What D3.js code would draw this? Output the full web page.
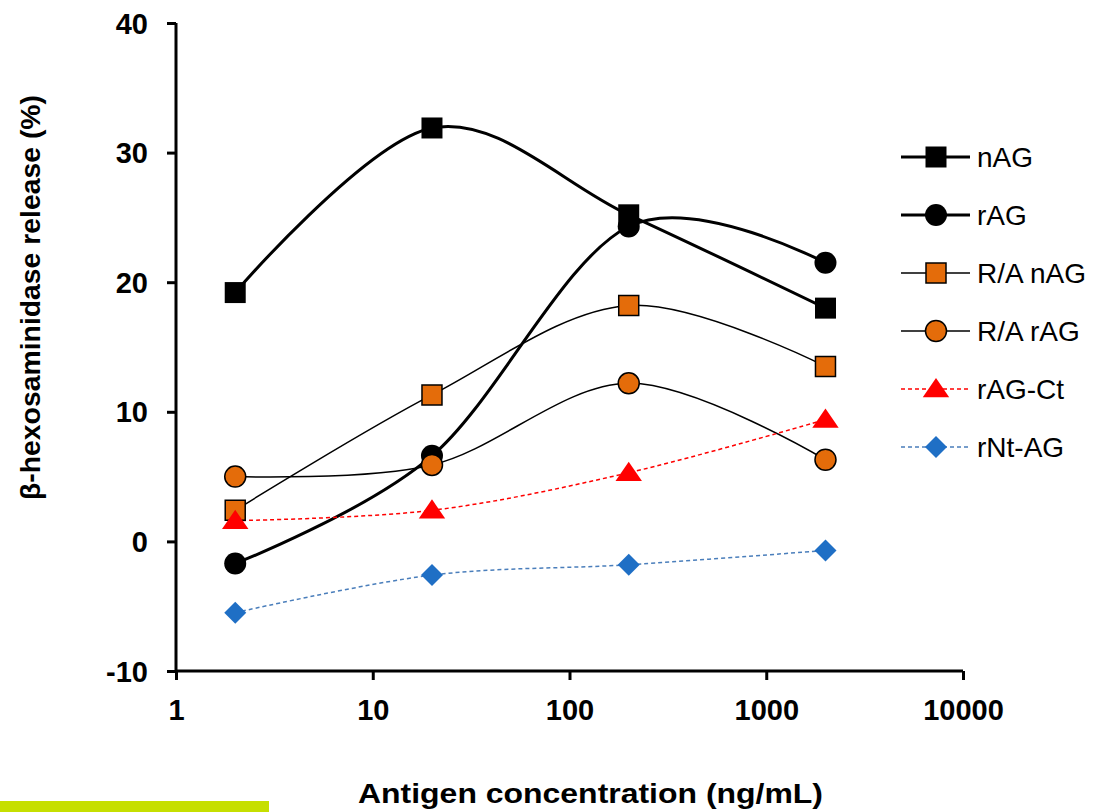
<!DOCTYPE html>
<html><head><meta charset="utf-8">
<script src="https://cdn.jsdelivr.net/npm/d3@7"></script>
<style>body{margin:0;background:#fff}svg{display:block}text{font-family:"Liberation Sans",Arial,sans-serif}</style>
</head><body>
<svg id="c" width="1094" height="812"></svg>
<script>
const concentrations = [2, 20, 200, 2000];
const nAG = [19.2, 31.9, 25.2, 18.0];
const rAG = [-1.7, 6.6, 24.3, 21.5];
const raNAG = [2.4, 11.3, 18.2, 13.5];
const raRAG = [5.0, 5.9, 12.2, 6.3];
const rAGCt = [1.6, 2.4, 5.3, 9.4];
const rNtAG = [-5.5, -2.6, -1.8, -0.7];
const xTicks = [1, 10, 100, 1000, 10000];
const yTicks = [-10, 0, 10, 20, 30, 40];

const series = [
  {name:"nAG", values:nAG, shape:"square", fill:"#000", stroke:"#000", lw:3, dash:null, size:21, mstroke:0},
  {name:"rAG", values:rAG, shape:"circle", fill:"#000", stroke:"#000", lw:3, dash:null, size:22, mstroke:0},
  {name:"R/A nAG", values:raNAG, shape:"square", fill:"#e46c0a", stroke:"#000", lw:1.5, dash:null, size:20, mstroke:1.5},
  {name:"R/A rAG", values:raRAG, shape:"circle", fill:"#e46c0a", stroke:"#000", lw:1.5, dash:null, size:21, mstroke:1.5},
  {name:"rAG-Ct", values:rAGCt, shape:"triangle", fill:"#ff0000", stroke:"#ff0000", lw:1.5, dash:"4,3", size:22, mstroke:0},
  {name:"rNt-AG", values:rNtAG, shape:"diamond", fill:"#1f6fc5", stroke:"#4a7ebb", lw:1.5, dash:"4,3", size:22, mstroke:0}
];

const svg = d3.select("#c");
const L = 176, R = 963, T = 23, B = 671;
const x = d3.scaleLog().domain([1, 10000]).range([L, R]);
const y = d3.scaleLinear().domain([-10, 40]).range([B, T]);

function markerPath(shape, s) {
  const h = s/2;
  if (shape === "square") return `M${-h},${-h}H${h}V${h}H${-h}Z`;
  if (shape === "circle") return d3.symbol(d3.symbolCircle, Math.PI*h*h)();
  if (shape === "triangle") { const w = s*0.6; return `M0,${-h}L${w},${h*0.75}L${-w},${h*0.75}Z`; }
  if (shape === "diamond") return `M0,${-h}L${h},0L0,${h}L${-h},0Z`;
}

// axes
const fmt = d => d < 0 ? "-" + Math.abs(d) : String(d);
const xAxis = svg.append("g").attr("transform",`translate(0,${B})`)
  .call(d3.axisBottom(x).tickValues(xTicks).tickFormat(fmt).tickSize(9).tickPadding(19));
const yAxis = svg.append("g").attr("transform",`translate(${L},0)`)
  .call(d3.axisLeft(y).tickValues(yTicks).tickFormat(fmt).tickSize(9).tickPadding(19));
[xAxis, yAxis].forEach(a => {
  a.select(".domain").attr("stroke","#000").attr("stroke-width",3);
  a.selectAll(".tick line").attr("stroke","#000").attr("stroke-width",3);
  a.selectAll(".tick text").attr("fill","#000").attr("font-size",29).attr("font-weight","bold");
});
xAxis.select(".domain").attr("d",`M${L},0H${R}`);
yAxis.select(".domain").attr("d",`M0,${B}V${T}`);
yAxis.selectAll(".tick text").attr("dy","0.35em");
xAxis.selectAll(".tick text").attr("dy","0.71em");

// lines
const line = d3.line().x((d,i)=>x(concentrations[i])).y(d=>y(d)).curve(d3.curveCardinal.tension(0));
series.forEach(s => {
  svg.append("path").attr("d", line(s.values)).attr("fill","none")
    .attr("stroke", s.stroke).attr("stroke-width", s.lw).attr("stroke-dasharray", s.dash);
});
series.forEach(s => {
  svg.append("g").selectAll("path").data(s.values).join("path")
    .attr("transform",(d,i)=>`translate(${x(concentrations[i])},${y(d)})`)
    .attr("d", markerPath(s.shape, s.size))
    .attr("fill", s.fill)
    .attr("stroke", s.mstroke ? "#000" : "none").attr("stroke-width", s.mstroke);
});

// legend
const lg = svg.append("g");
series.forEach((s,i) => {
  const yy = 157 + i*58;
  lg.append("line").attr("x1",901).attr("x2",970).attr("y1",yy).attr("y2",yy)
    .attr("stroke", s.stroke).attr("stroke-width", s.lw).attr("stroke-dasharray", s.dash);
  lg.append("path").attr("transform",`translate(936,${yy})`).attr("d", markerPath(s.shape, s.size))
    .attr("fill", s.fill).attr("stroke", s.mstroke ? "#000" : "none").attr("stroke-width", s.mstroke);
  lg.append("text").attr("x",977).attr("y",yy).attr("dy","0.35em").attr("font-size",28).attr("fill","#000").text(s.name);
});

// axis titles
svg.append("text").attr("x",358).attr("y",803).attr("font-size",28)
  .attr("font-weight","bold").attr("textLength",465).attr("lengthAdjust","spacingAndGlyphs")
  .text("Antigen concentration (ng/mL)");
svg.append("text").attr("transform","translate(40,500) rotate(-90)")
  .attr("font-size",28).attr("font-weight","bold").attr("textLength",405).attr("lengthAdjust","spacingAndGlyphs")
  .text("β-hexosaminidase release (%)");

svg.append("rect").attr("x",0).attr("y",801).attr("width",269).attr("height",11).attr("fill","#c6df00");
</script>
</body></html>
